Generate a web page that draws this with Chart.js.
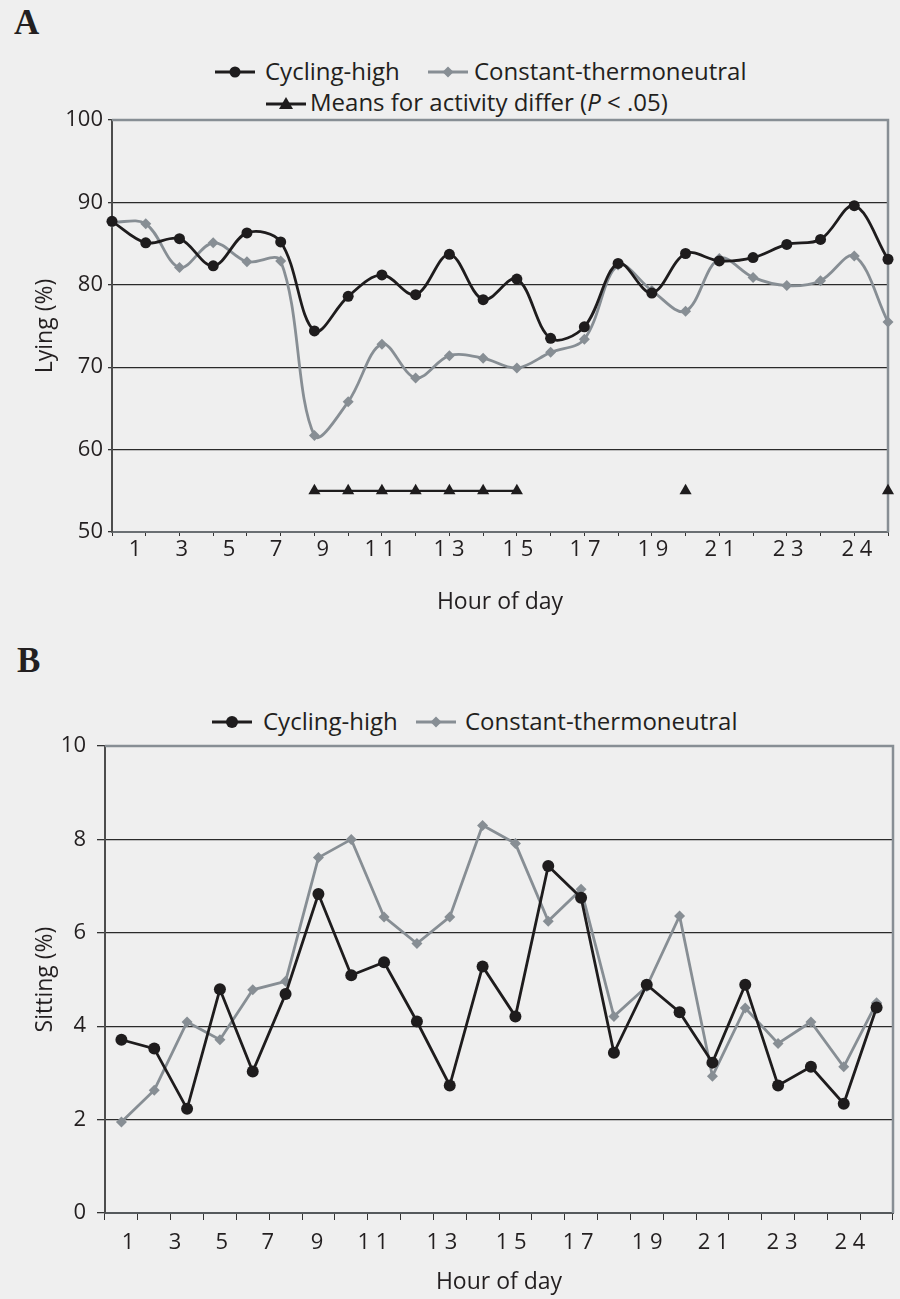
<!DOCTYPE html>
<html>
<head>
<meta charset="utf-8">
<script src="https://cdn.jsdelivr.net/npm/chart.js@4.4.1/dist/chart.umd.min.js"></script>
<style>
  body { margin: 0; width: 900px; height: 1299px; background: #efefef; position: relative; overflow: hidden; font-family: 'Open Sans', sans-serif; color: #231f20; }
  canvas { position: absolute; left: 0; }
  .panel { position: absolute; font-family: 'Liberation Serif', serif; font-weight: bold; font-size: 35px; line-height: 35px; color: #231f20; }
  .lt { position: absolute; font-size: 24px; line-height: 24px; white-space: nowrap; }
  .ls { position: absolute; width: 40px; height: 16px; }
</style>
</head>
<body>

<div class="panel" style="left:14px;top:5px">A</div>
<div class="panel" style="left:17px;top:643px">B</div>

<!-- legenda A -->
<svg class="ls" style="left:215px;top:64px" viewBox="0 0 40 16"><line x1="0" y1="8" x2="40" y2="8" stroke="#1e1c1d" stroke-width="2.8"/><circle cx="20" cy="8" r="5.5" fill="#1e1c1d"/></svg>
<span class="lt" style="left:265px;top:59px">Cycling-high</span>
<svg class="ls" style="left:428px;top:64px" viewBox="0 0 40 16"><line x1="0" y1="8" x2="40" y2="8" stroke="#878e94" stroke-width="2.8"/><polygon points="20,2.5 25.5,8 20,13.5 14.5,8" fill="#878e94"/></svg>
<span class="lt" style="left:474px;top:59px">Constant-thermoneutral</span>
<svg class="ls" style="left:266px;top:95px" viewBox="0 0 40 16"><line x1="0" y1="9" x2="40" y2="9" stroke="#1e1c1d" stroke-width="2.8"/><polygon points="20,2 27,14 13,14" fill="#1e1c1d"/></svg>
<span class="lt" style="left:310px;top:90px">Means for activity differ (<i>P</i> &lt; .05)</span>

<!-- legenda B -->
<svg class="ls" style="left:212px;top:714px" viewBox="0 0 40 16"><line x1="0" y1="8" x2="40" y2="8" stroke="#1e1c1d" stroke-width="2.8"/><circle cx="20" cy="8" r="6" fill="#1e1c1d"/></svg>
<span class="lt" style="left:263px;top:709px">Cycling-high</span>
<svg class="ls" style="left:416px;top:714px" viewBox="0 0 40 16"><line x1="0" y1="8" x2="40" y2="8" stroke="#878e94" stroke-width="2.8"/><polygon points="20,2.5 25.5,8 20,13.5 14.5,8" fill="#878e94"/></svg>
<span class="lt" style="left:465px;top:709px">Constant-thermoneutral</span>

<canvas id="lyingChart" width="900" height="620" style="top:0"></canvas>
<canvas id="sittingChart" width="900" height="679" style="top:620px"></canvas>

<script>
// dados
var hours = ['1','2','3','4','5','6','7','8','9','10','11','12','13','14','15','16','17','18','19','20','21','22','23','24']

var lyingCycling  = [87.7, 85.1, 85.6, 82.3, 86.3, 85.2, 74.4, 78.6, 81.2, 78.8, 83.7, 78.2, 80.7, 73.5, 74.9, 82.6, 79.0, 83.8, 82.9, 83.3, 84.9, 85.5, 89.6, 83.1]
var lyingConstant = [87.6, 87.4, 82.1, 85.1, 82.8, 82.9, 61.7, 65.8, 72.8, 68.7, 71.4, 71.1, 69.9, 71.8, 73.4, 82.4, 79.3, 76.8, 83.2, 80.9, 79.9, 80.5, 83.5, 75.5]
var lyingDiffer   = [null, null, null, null, null, null, 55, 55, 55, 55, 55, 55, 55, null, null, null, null, 55, null, null, null, null, null, 55]

var sittingCycling  = [3.71, 3.52, 2.23, 4.79, 3.03, 4.69, 6.83, 5.09, 5.37, 4.10, 2.73, 5.28, 4.21, 7.43, 6.75, 3.43, 4.89, 4.30, 3.22, 4.89, 2.73, 3.13, 2.34, 4.40]
var sittingConstant = [1.95, 2.63, 4.09, 3.71, 4.78, 4.96, 7.61, 8.00, 6.34, 5.77, 6.34, 8.30, 7.91, 6.25, 6.93, 4.21, 4.85, 6.36, 2.93, 4.39, 3.63, 4.09, 3.13, 4.50]

// rotulos do eixo x (o original os deixa fora das marcas)
var hourTickText = ['1', '3', '5', '7', '9', '1 1', '1 3', '1 5', '1 7', '1 9', '2 1', '2 3', '2 4']
var lyingTickAt   = [1.68, 3.07, 4.47, 5.86, 7.25, 8.94, 10.99, 13.03, 15.02, 17.03, 19.02, 21.04, 23.08]
var sittingTickAt = [1.20, 2.63, 4.06, 5.46, 6.96, 8.66, 10.76, 12.87, 14.91, 17.01, 19.02, 21.12, 23.19]

var black = '#1e1c1d'
var gray = '#878e94'
var ink = '#231f20'

Chart.defaults.font.family = "'Open Sans', sans-serif"
Chart.defaults.color = ink

// moldura cinza em cima e na direita
var frame = {
    id: 'frame',
    beforeDatasetsDraw(chart) {
        var a = chart.chartArea
        var ctx = chart.ctx
        ctx.save()
        ctx.strokeStyle = gray
        ctx.lineWidth = 2.5
        ctx.beginPath()
        ctx.moveTo(a.left, a.top)
        ctx.lineTo(a.right, a.top)
        ctx.lineTo(a.right, a.bottom)
        ctx.stroke()
        ctx.restore()
    }
}

function gridColor(c) {
    if (c.tick.value === c.scale.max || c.tick.value === c.scale.min) return 'rgba(0,0,0,0)'
    return '#2a2a2a'
}

function labelAxis(min, max, tickAt, pad, height, titlePad) {
    return {
        type: 'linear', position: 'bottom', min: min, max: max, weight: 1,
        grid: { display: false, drawTicks: false },
        border: { display: false },
        afterBuildTicks: s => { s.ticks = tickAt.map(v => ({ value: v })) },
        ticks: { autoSkip: false, maxRotation: 0, padding: pad, font: { size: 22 }, color: ink,
                 callback: (v, i) => hourTickText[i] },
        title: { display: true, text: 'Hour of day', font: { size: 23 }, color: ink, padding: { top: 0, bottom: titlePad } },
        afterFit: s => { s.height = height }
    }
}

// Grafico A - deitado
new Chart(document.getElementById('lyingChart').getContext('2d'), {
    type: 'line',
    data: {
        labels: hours,
        datasets: [{
            label: 'Cycling-high',
            data: lyingCycling,
            xAxisID: 'x',
            borderColor: black, backgroundColor: black,
            borderWidth: 2.8, tension: 0.35,
            pointStyle: 'circle', pointRadius: 5.5, pointBorderWidth: 0,
            clip: false
        }, {
            label: 'Constant-thermoneutral',
            data: lyingConstant,
            xAxisID: 'x',
            borderColor: gray, backgroundColor: gray,
            borderWidth: 2.8, tension: 0.35,
            pointStyle: 'rectRot', pointRadius: 5.5, pointBorderWidth: 0,
            clip: false
        }, {
            label: 'Means for activity differ (P < .05)',
            data: lyingDiffer,
            xAxisID: 'x',
            borderColor: black, backgroundColor: black,
            borderWidth: 2.2, tension: 0, spanGaps: false,
            pointStyle: 'triangle', pointRadius: 7, pointBorderWidth: 0,
            clip: false
        }]
    },
    options: {
        responsive: false,
        animation: false,
        layout: { padding: { top: 120, right: 12, left: 0, bottom: 0 } },
        plugins: { legend: { display: false }, tooltip: { enabled: false } },
        scales: {
            x: {
                type: 'category', offset: false, weight: 0,
                grid: { drawOnChartArea: false, drawTicks: true, tickLength: 4, tickColor: '#333', offset: false },
                border: { color: '#6a6f73', width: 2 },
                ticks: { display: false },
                afterFit: s => { s.height = 0 }
            },
            x2: labelAxis(1, 24, lyingTickAt, 5, 88, 4),
            y: {
                min: 50, max: 100,
                ticks: { stepSize: 10, padding: 5, font: { size: 22 }, color: ink },
                grid: { color: gridColor, lineWidth: 1.3, tickLength: 4, tickColor: '#333' },
                border: { color: '#4d4d4d', width: 2 },
                title: { display: true, text: 'Lying (%)', font: { size: 23 }, color: ink, padding: { top: 32, bottom: 0 } },
                afterFit: s => { s.width = 112 }
            }
        }
    },
    plugins: [frame]
})

// Grafico B - sentado
new Chart(document.getElementById('sittingChart').getContext('2d'), {
    type: 'line',
    data: {
        labels: hours,
        datasets: [{
            label: 'Cycling-high',
            data: sittingCycling,
            xAxisID: 'x',
            borderColor: black, backgroundColor: black,
            borderWidth: 2.8, tension: 0,
            pointStyle: 'circle', pointRadius: 6, pointBorderWidth: 0,
            clip: false
        }, {
            label: 'Constant-thermoneutral',
            data: sittingConstant,
            xAxisID: 'x',
            borderColor: gray, backgroundColor: gray,
            borderWidth: 2.8, tension: 0,
            pointStyle: 'rectRot', pointRadius: 5.5, pointBorderWidth: 0,
            clip: false
        }]
    },
    options: {
        responsive: false,
        animation: false,
        layout: { padding: { top: 126, right: 7, left: 0, bottom: 0 } },
        plugins: { legend: { display: false }, tooltip: { enabled: false } },
        scales: {
            x: {
                type: 'category', offset: true, weight: 0,
                grid: { drawOnChartArea: false, drawTicks: true, tickLength: 7, tickColor: '#333', offset: true },
                border: { color: '#55595c', width: 2 },
                ticks: { display: false },
                afterFit: s => { s.height = 0 }
            },
            x2: labelAxis(0.5, 24.5, sittingTickAt, 17, 86, 3),
            y: {
                min: 0, max: 10,
                ticks: { stepSize: 2, padding: 11, font: { size: 22 }, color: ink },
                grid: { color: gridColor, lineWidth: 1.3, tickLength: 8, tickColor: '#333' },
                border: { color: '#4d4d4d', width: 2 },
                title: { display: true, text: 'Sitting (%)', font: { size: 23 }, color: ink, padding: { top: 32, bottom: 0 } },
                afterFit: s => { s.width = 105 }
            }
        }
    },
    plugins: [frame]
})
</script>
</body>
</html>
